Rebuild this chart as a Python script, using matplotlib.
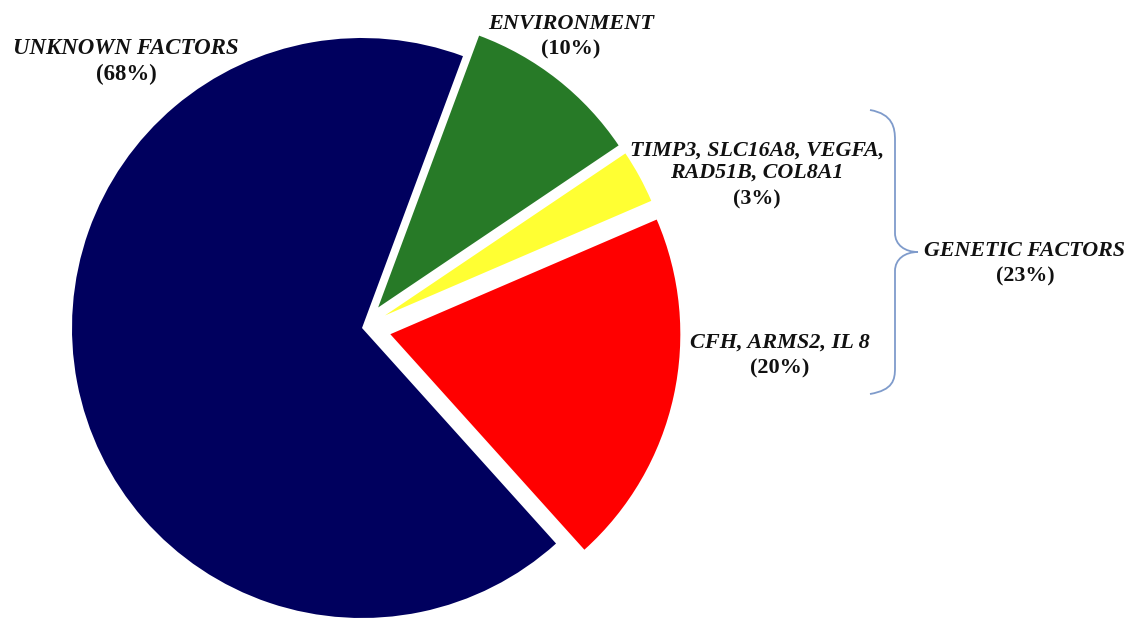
import matplotlib
matplotlib.use("Agg")
import matplotlib.pyplot as plt
from matplotlib.path import Path
from matplotlib.patches import PathPatch

# Data (drawn counter-clockwise starting at lower right)
categories = ["CFH, ARMS2, IL 8", "TIMP3, SLC16A8, VEGFA,\nRAD51B, COL8A1", "ENVIRONMENT", "UNKNOWN FACTORS"]
values = [20, 3, 10, 68]
pct_labels = ["(20%)", "(3%)", "(10%)", "(68%)"]
colors = ["#FF0000", "#FFFF33", "#277A27", "#00005E"]
explode = [0.1, 0.09, 0.09, 0.0]
group_label = "GENETIC FACTORS"
group_pct = "(23%)"

W, H = 1147, 620
fig = plt.figure(figsize=(W / 100, H / 100), dpi=100)
ax = fig.add_axes([0, 0, 1, 1])

cx, cy, R = 362, 328, 290  # pixel centre / radius
ax.pie(values, colors=colors, explode=explode, startangle=-48, counterclock=True,
       radius=1.0, center=(0, 0), wedgeprops=dict(linewidth=0))
ax.set_xlim(-cx / R, (W - cx) / R)
ax.set_ylim((cy - H) / R, cy / R)
ax.set_aspect("equal")
ax.axis("off")


def px(x, y):
    return (x / W, 1 - y / H)


font = dict(family="Liberation Serif", fontweight="bold", color="#111111", fontsize=16)


def label(x, y, name, pct, spacing=25, size=16):
    lines = name.split("\n")
    f = dict(font, fontsize=size)
    for i, ln in enumerate(lines):
        fig.text(*px(x, y + i * 22), ln, ha="center", va="center", style="italic", **f)
    fig.text(*px(x, y + (len(lines) - 1) * 22 + spacing), pct, ha="center", va="center", **f)


label(126, 49, categories[3], pct_labels[3], size=16.5)
label(571, 24, categories[2], pct_labels[2])
label(757, 151, categories[1], pct_labels[1], spacing=26, size=15.8)
label(780, 343, categories[0], pct_labels[0])
label(1025, 251, group_label, group_pct, size=15.8)


def P(x, y):
    return px(x, y)


verts = [P(870, 110), P(893, 114), P(895, 128), P(895, 140),
         P(895, 233),
         P(895, 245), P(905, 252), P(918, 252),
         P(905, 252), P(895, 259), P(895, 271),
         P(895, 368),
         P(895, 380), P(893, 390), P(870, 394)]
codes = [Path.MOVETO, Path.CURVE4, Path.CURVE4, Path.CURVE4,
         Path.LINETO,
         Path.CURVE4, Path.CURVE4, Path.CURVE4,
         Path.CURVE4, Path.CURVE4, Path.CURVE4,
         Path.LINETO,
         Path.CURVE4, Path.CURVE4, Path.CURVE4]
brace = PathPatch(Path(verts, codes), transform=fig.transFigure, facecolor="none",
                  edgecolor="#7F9BCB", linewidth=1.3)
fig.patches.append(brace)

fig.savefig("out.png", dpi=100, facecolor="white")
